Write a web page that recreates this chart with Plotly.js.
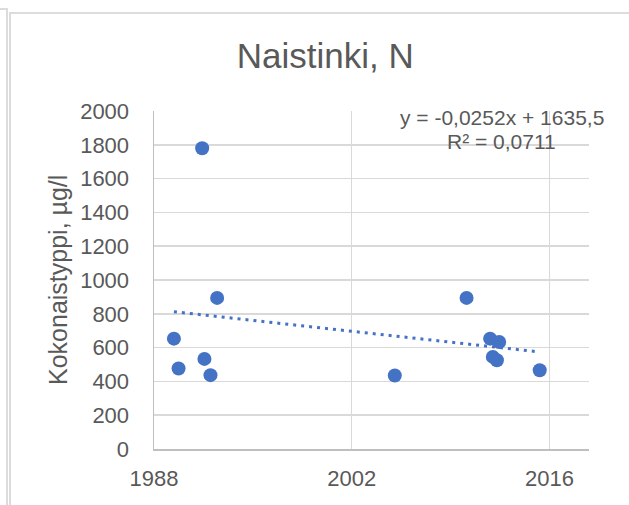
<!DOCTYPE html>
<html>
<head>
<meta charset="utf-8">
<script src="https://cdn.plot.ly/plotly-3.0.1.min.js"></script>
<style>
  html, body { margin: 0; padding: 0; background: #ffffff; }
  #wrap { position: relative; width: 629px; height: 505px; overflow: hidden; }
  #chart { position: absolute; left: 0; top: 0; width: 629px; height: 505px; }
  .fr { position: absolute; background: #dcdcdc; pointer-events: none; }
</style>
</head>
<body>
<div id="wrap">
  <div id="chart"></div>
  <div class="fr" style="left:0;top:8px;width:8px;height:2px;"></div>
  <div class="fr" style="left:6px;top:8px;width:2px;height:497px;"></div>
  <div class="fr" style="left:9px;top:12px;width:620px;height:2px;"></div>
  <div class="fr" style="left:9px;top:12px;width:2px;height:493px;"></div>
</div>
<script>
// ---- data ----
var chartTitle = "Naistinki, N";
var yTitle = "Kokonaistyppi, µg/l";
var years  = [1989.41, 1989.74, 1991.41, 1991.57, 1992.00, 1992.47, 2005.05, 2010.13, 2011.80, 2011.99, 2012.28, 2012.44, 2015.31];
var values = [653, 476, 1780, 533, 437, 894, 435, 894, 653, 545, 525, 633, 466];
var xTickVals = [1988, 2002, 2016];
var xTickText = ["1988", "2002", "2016"];
var yTickVals = [0, 200, 400, 600, 800, 1000, 1200, 1400, 1600, 1800, 2000];
var trendSlopePerDay = -0.0252;   // Excel trendline (x = Excel date serial)
var trendIntercept = 1635.5;
var eqLine1 = "y = -0,0252x + 1635,5";
var eqLine2 = "R² = 0,0711";

// ---- trendline through Excel's equation, spanning the data ----
function toSerial(y) { return 25569 + (y - 1970) * 365.25; }
var xMin = Math.min.apply(null, years), xMax = Math.max.apply(null, years);
var trendX = [xMin, xMax];
var trendY = trendX.map(function (x) { return trendIntercept + trendSlopePerDay * toSerial(x); });

var blue = "#4472c4";
var grey = "#595959";
var font = "Liberation Sans, Arial, sans-serif";

var traces = [
  {
    x: trendX, y: trendY, type: "scatter", mode: "lines",
    line: { color: blue, width: 3, dash: "3px,5px" },
    hoverinfo: "skip", showlegend: false
  },
  {
    x: years, y: values, type: "scatter", mode: "markers",
    marker: { color: blue, size: 14, line: { width: 0 } },
    showlegend: false
  }
];

var layout = {
  width: 629, height: 505,
  margin: { l: 154, r: 40, t: 111, b: 56, pad: 0 },
  paper_bgcolor: "#ffffff", plot_bgcolor: "#ffffff",
  font: { family: font, color: grey, size: 22 },
  title: {
    text: chartTitle,
    font: { family: font, size: 35, color: grey },
    xref: "container", x: 0.517, xanchor: "center",
    yref: "container", y: 0.89, yanchor: "middle"
  },
  xaxis: {
    range: [1988, 2018.8],
    tickmode: "array", tickvals: xTickVals, ticktext: xTickText,
    ticks: "outside", ticklen: 9, tickcolor: "rgba(0,0,0,0)",
    tickfont: { family: font, size: 22, color: grey },
    showgrid: true, gridcolor: "#d9d9d9", gridwidth: 1.5,
    showline: true, linecolor: "#bfbfbf", linewidth: 1.5,
    zeroline: false, fixedrange: true
  },
  yaxis: {
    range: [0, 2000],
    tickmode: "array", tickvals: yTickVals,
    ticks: "outside", ticklen: 19, tickcolor: "rgba(0,0,0,0)",
    tickfont: { family: font, size: 22, color: grey },
    showgrid: true, gridcolor: "#d9d9d9", gridwidth: 1.5,
    showline: true, linecolor: "#bfbfbf", linewidth: 1.5,
    zeroline: false, fixedrange: true
  },
  annotations: [
    {
      text: yTitle, textangle: -90,
      xref: "paper", yref: "paper",
      x: (58 - 154) / 435, y: 0.5, xanchor: "center", yanchor: "middle",
      showarrow: false, font: { family: font, size: 25, color: grey }
    },
    {
      text: eqLine1, xref: "paper", yref: "paper",
      x: (502 - 154) / 435, y: (449 - 117) / 338, xanchor: "center", yanchor: "middle",
      showarrow: false, font: { family: font, size: 21, color: grey }
    },
    {
      text: eqLine2, xref: "paper", yref: "paper",
      x: (501 - 154) / 435, y: (449 - 141) / 338, xanchor: "center", yanchor: "middle",
      showarrow: false, font: { family: font, size: 21, color: grey }
    }
  ]
};

Plotly.newPlot("chart", traces, layout, { displayModeBar: false, staticPlot: true });
</script>
</body>
</html>
